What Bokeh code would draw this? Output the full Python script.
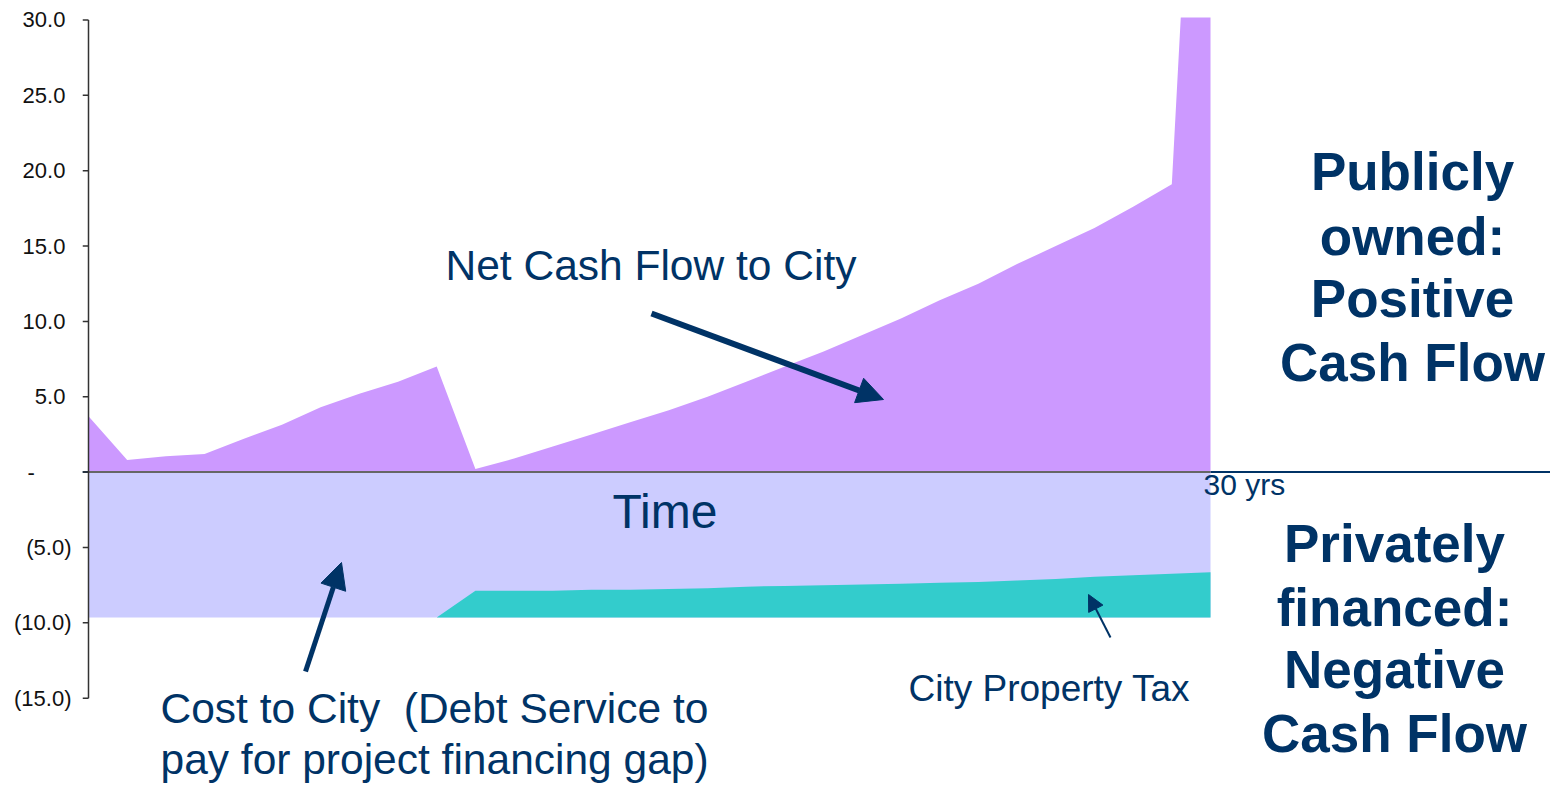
from bokeh.plotting import figure
from bokeh.models import Range1d, FixedTicker, Label, Arrow, NormalHead, Span
from bokeh.embed import file_html
from bokeh.resources import INLINE

# ---------------- data ----------------
years = list(range(1, 31))
net_cash_flow = [3.7, 0.8, 1.05, 1.2, 2.2, 3.15, 4.3, 5.2, 6.0, 7.0,
                 0.2, 0.9, 1.7, 2.5, 3.3, 4.1, 5.0, 6.0, 7.0, 8.0,
                 9.1, 10.2, 11.4, 12.5, 13.8, 15.0, 16.2, 17.6, 19.1, 67.0]
debt_service = [-9.65, -9.65, -9.65, -9.65, -9.65, -9.65, -9.65, -9.65, -9.65, -9.65,
                -9.65, -9.65, -9.65, -9.65, -9.65, -9.65, -9.65, -9.65, -9.65, -9.65,
                -9.65, -9.65, -9.65, -9.65, -9.65, -9.65, -9.65, -9.65, -9.65, -9.65]
property_tax = [0, 0, 0, 0, 0, 0, 0, 0, 0, 0,
                1.77, 1.77, 1.77, 1.85, 1.85, 1.9, 1.95, 2.05, 2.1, 2.15,
                2.2, 2.25, 2.3, 2.35, 2.45, 2.55, 2.7, 2.8, 2.9, 3.0]
y_ticks = [-15, -10, -5, 0, 5, 10, 15, 20, 25, 30]
y_tick_labels = ["(15.0)", "(10.0)", "(5.0)", "-", "5.0", "10.0", "15.0", "20.0", "25.0", "30.0"]

# ---------------- style / layout ----------------
NAVY = "#003366"
PURPLE = "#cc99ff"
LAVENDER = "#ccccff"
TEAL = "#33cccc"
FONT = "Liberation Sans"

CANVAS_W, CANVAS_H = 1550, 786
FRAME_LEFT, FRAME_TOP = 82, 17      # canvas px
AXIS_PX = 88                        # where the first year / axis line sits
PX_PER_YEAR = 38.69
PX_PER_UNIT = 15.071
ZERO_PY = 471.6


def dx(px):
    return years[0] + (px - AXIS_PX) / PX_PER_YEAR


def dy(py):
    return (ZERO_PY - py) / PX_PER_UNIT


frame_w, frame_h = CANVAS_W - FRAME_LEFT, CANVAS_H - FRAME_TOP
p = figure(frame_width=frame_w, frame_height=frame_h,
           min_border_left=FRAME_LEFT, min_border_right=0, min_border_top=FRAME_TOP, min_border_bottom=0,
           x_range=Range1d(dx(FRAME_LEFT), dx(CANVAS_W)),
           y_range=Range1d(dy(CANVAS_H), dy(FRAME_TOP)),
           x_axis_location=None, output_backend="svg", toolbar_location=None,
           background_fill_color="white", border_fill_color="white")
p.outline_line_color = None
p.grid.visible = False

ax = p.yaxis[0]
ax.ticker = FixedTicker(ticks=y_ticks)
pad = {"-": "-" + "\u00a0" * 6}
ax.major_label_overrides = {t: (lab if lab.startswith("(") else pad.get(lab, lab + "\u00a0"))
                            for t, lab in zip(y_ticks, y_tick_labels)}
ax.minor_tick_line_color = None
ax.major_tick_line_color = None
ax.major_tick_in = 0
ax.major_tick_out = 0
ax.axis_line_color = None
ax.major_label_standoff = 11
ax.major_label_text_font = FONT
ax.major_label_text_font_size = "22px"
ax.major_label_text_color = "#111111"

# navy baseline extending to the right
p.add_layout(Span(location=0, dimension="width", line_color=NAVY, line_width=2, level="underlay"))

# areas
p.varea(x=years, y1=0, y2=net_cash_flow, fill_color=PURPLE)
p.varea(x=years, y1=debt_service, y2=0, fill_color=LAVENDER)
tax_top = [d + t for d, t in zip(debt_service, property_tax)]
p.varea(x=years, y1=debt_service, y2=tax_top, fill_color=TEAL)
p.line(x=[years[0], years[-1]], y=[0, 0], line_color="#666666", line_width=2)

# y axis line and ticks
n = len(y_ticks)
p.segment(x0=[dx(FRAME_LEFT)] * n, y0=y_ticks, x1=[years[0]] * n, y1=y_ticks,
          line_color="#333333", line_width=1.5)
p.segment(x0=[years[0]], y0=[y_ticks[0]], x1=[years[0]], y1=[y_ticks[-1]],
          line_color="#333333", line_width=1.5)


def label(text, px, py, size, align="left", bold=False):
    p.add_layout(Label(x=dx(px), y=dy(py), text=text, text_font=FONT,
                       text_font_size=f"{size}px", text_color=NAVY,
                       text_font_style="bold" if bold else "normal",
                       text_align=align, text_baseline="alphabetic"))


label("Net Cash Flow to City", 445, 265, 42.5)
label("Time", 612, 511, 48)
label("30 yrs", 1203, 484, 30)
label("City Property Tax", 908, 688, 37)
label("Cost to City \u00a0(Debt Service to", 160, 708, 42.5)
label("pay for project financing gap)", 160, 759, 42.5)

for txt, py in zip(["Publicly", "owned:", "Positive", "Cash Flow"], [171, 236, 298, 362]):
    label(txt, 1412, py, 53, align="center", bold=True)
for txt, py in zip(["Privately", "financed:", "Negative", "Cash Flow"], [543, 607, 669, 733]):
    label(txt, 1394, py, 53, align="center", bold=True)


def arrow(x0, y0, x1, y1, width, head):
    p.add_layout(Arrow(end=NormalHead(size=head, fill_color=NAVY, line_color=NAVY, line_width=1),
                       x_start=dx(x0), y_start=dy(y0), x_end=dx(x1), y_end=dy(y1),
                       line_color=NAVY, line_width=width))


arrow(651, 313, 883, 399, 6, 26)
arrow(305, 671, 341, 562, 5, 26)
arrow(1110, 637, 1088, 594, 2, 16)

open("out.html", "w").write(file_html(p, INLINE))
